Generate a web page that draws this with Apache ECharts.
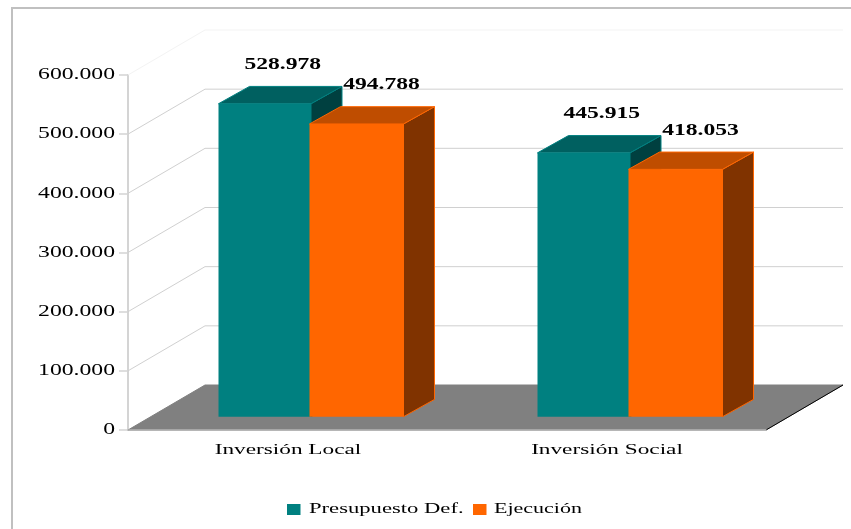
<!DOCTYPE html>
<html style="height: 100%">
<head>
    <meta charset="utf-8">
    <script src="https://cdn.jsdelivr.net/npm/echarts@6/dist/echarts.min.js"></script>
    <style>
        html, body { margin: 0; padding: 0; background: #fff; }
        #container { width: 851px; height: 529px; }
    </style>
</head>
<body>
    <div id="container"></div>

    <script type="text/javascript">
        var categories = ['Inversión Local', 'Inversión Social'];
        var seriesNames = ['Presupuesto Def.', 'Ejecución'];
        var presupuesto = [528978, 445915];
        var ejecucion = [494788, 418053];
        var yTicks = [0, 100000, 200000, 300000, 400000, 500000, 600000];

        var FONT = '"Liberation Serif", "Times New Roman", serif';
        // depth of the chart box and of the bars, in pixels
        var DEPTH_X = 77, DEPTH_Y = -45;
        var FRONT_X = 23.5, FRONT_Y = -13.3;
        var BAR_X = 31, BAR_Y = -17.3;

        function fmt(v) {
            return String(v).replace(/\B(?=(\d{3})+$)/g, '.');
        }

        function poly(points, fill, stroke) {
            return {
                type: 'polygon',
                shape: { points: points },
                style: { fill: fill, stroke: stroke || fill, lineWidth: 1 }
            };
        }

        // the original text is stretched sideways, hence the scale
        function label(text, x, y, size, scale, align, bold) {
            return {
                type: 'text', x: x, y: y, scaleX: scale,
                style: {
                    text: text, fontFamily: FONT, fontSize: size,
                    fontWeight: bold ? 'bold' : 'normal', fill: '#000',
                    align: align, verticalAlign: 'middle'
                }
            };
        }

        // back wall lines, one per tick
        function renderWall(params, api) {
            var v = api.value(1);
            var x0 = params.coordSys.x, w = params.coordSys.width;
            var y = api.coord([0, v])[1];
            if (v === 0) {
                return { type: 'group', children: [] };
            }
            var c = v === 600000 ? '#f3f3f3' : '#d0d0d0';
            return {
                type: 'polyline',
                shape: { points: [[x0, y], [x0 + DEPTH_X, y + DEPTH_Y], [x0 + w + DEPTH_X, y + DEPTH_Y]] },
                style: { stroke: c, fill: null, lineWidth: 1 }
            };
        }

        function renderFloor(params, api) {
            var x0 = params.coordSys.x, w = params.coordSys.width;
            var y = api.coord([0, api.value(1)])[1];
            return {
                type: 'group',
                children: [
                    poly([[x0, y], [x0 + DEPTH_X, y + DEPTH_Y], [x0 + w + DEPTH_X, y + DEPTH_Y], [x0 + w, y]], '#808080'),
                    { type: 'line', shape: { x1: x0 + w, y1: y, x2: x0 + w + DEPTH_X, y2: y + DEPTH_Y },
                      style: { stroke: '#000', lineWidth: 1 } }
                ]
            };
        }

        function makeBar(left, width, front, top, side, edge, labelDx) {
            return function (params, api) {
                var i = api.value(0), v = api.value(1);
                var p = api.coord([i, v]);
                var base = api.coord([i, 0])[1] + FRONT_Y;
                var x1 = p[0] + FRONT_X + left;
                var x2 = x1 + width;
                var y1 = p[1] + FRONT_Y;
                return {
                    type: 'group',
                    children: [
                        poly([[x2, y1], [x2 + BAR_X, y1 + BAR_Y], [x2 + BAR_X, base + BAR_Y], [x2, base]], side, edge),
                        poly([[x1, y1], [x1 + BAR_X, y1 + BAR_Y], [x2 + BAR_X, y1 + BAR_Y], [x2, y1]], top, edge),
                        { type: 'rect', shape: { x: x1, y: y1, width: width, height: base - y1 }, style: { fill: front } },
                        label(fmt(v), (x1 + x2) / 2 + labelDx, y1 - 39, 16.5, 1.43, 'center', true)
                    ]
                };
            };
        }

        function renderYLabel(params, api) {
            var v = api.value(1);
            return label(fmt(v), 115, api.coord([0, v])[1], 16, 1.48, 'right');
        }

        function renderCatLabel(params, api) {
            var i = api.value(0);
            return label(categories[i], api.coord([i, 0])[0] + 0.5, 450, 15.5, 1.5, 'center');
        }

        var wallData = yTicks.map(function (v) { return [0, v]; });
        var catIdx = categories.map(function (c, i) { return [i, 0]; });

        var option = {
            animation: false,
            backgroundColor: '#fff',
            tooltip: { show: false },
            grid: { left: 128, right: 85, top: 75, bottom: 99 },
            xAxis: {
                type: 'category',
                data: categories,
                z: 5,
                axisLine: { lineStyle: { color: '#b4b4b4', width: 1.5 } },
                axisTick: { length: 6, lineStyle: { color: '#c8c8c8' } },
                axisLabel: { show: false }
            },
            yAxis: {
                type: 'value',
                min: 0,
                max: 600000,
                interval: 100000,
                axisLine: { show: true, lineStyle: { color: '#d4d4d4', width: 2 } },
                axisTick: { show: true, length: 9, lineStyle: { color: '#d4d4d4', width: 1.5 } },
                axisLabel: { show: false },
                splitLine: { show: false }
            },
            graphic: [
                { type: 'rect', silent: true, shape: { x: 12, y: 8, width: 900, height: 600 }, style: { fill: null, stroke: '#c0c0c0', lineWidth: 2 } },
                { type: 'rect', shape: { x: 287, y: 504, width: 13.5, height: 11 }, style: { fill: '#008080' } },
                { type: 'text', x: 309, y: 509, scaleX: 1.46, style: { text: seriesNames[0], fontFamily: FONT, fontSize: 15.5, fill: '#000', verticalAlign: 'middle' } },
                { type: 'rect', shape: { x: 473, y: 504, width: 13.5, height: 11 }, style: { fill: '#FF6600' } },
                { type: 'text', x: 494, y: 509, scaleX: 1.42, style: { text: seriesNames[1], fontFamily: FONT, fontSize: 15.5, fill: '#000', verticalAlign: 'middle' } }
            ],
            series: [
                { type: 'custom', name: 'pared', clip: false, z: 1, silent: true, renderItem: renderWall, data: wallData },
                { type: 'custom', name: 'piso', clip: false, z: 2, silent: true, renderItem: renderFloor, data: [[0, 0]] },
                {
                    type: 'custom', name: seriesNames[0], clip: false, z: 3,
                    renderItem: makeBar(-92.5, 92.5, '#008080', '#006060', '#004040', '#008080', 18),
                    data: presupuesto.map(function (v, i) { return [i, v]; })
                },
                {
                    type: 'custom', name: seriesNames[1], clip: false, z: 4,
                    renderItem: makeBar(-1.5, 94, '#FF6600', '#BF4D00', '#803300', '#FF6600', 25),
                    data: ejecucion.map(function (v, i) { return [i, v]; })
                },
                { type: 'custom', name: 'ejeY', clip: false, z: 6, silent: true, renderItem: renderYLabel, data: wallData },
                { type: 'custom', name: 'ejeX', clip: false, z: 6, silent: true, renderItem: renderCatLabel, data: catIdx }
            ]
        };

        var myChart = echarts.init(document.getElementById('container'));
        myChart.setOption(option, true);
    </script>
</body>
</html>
